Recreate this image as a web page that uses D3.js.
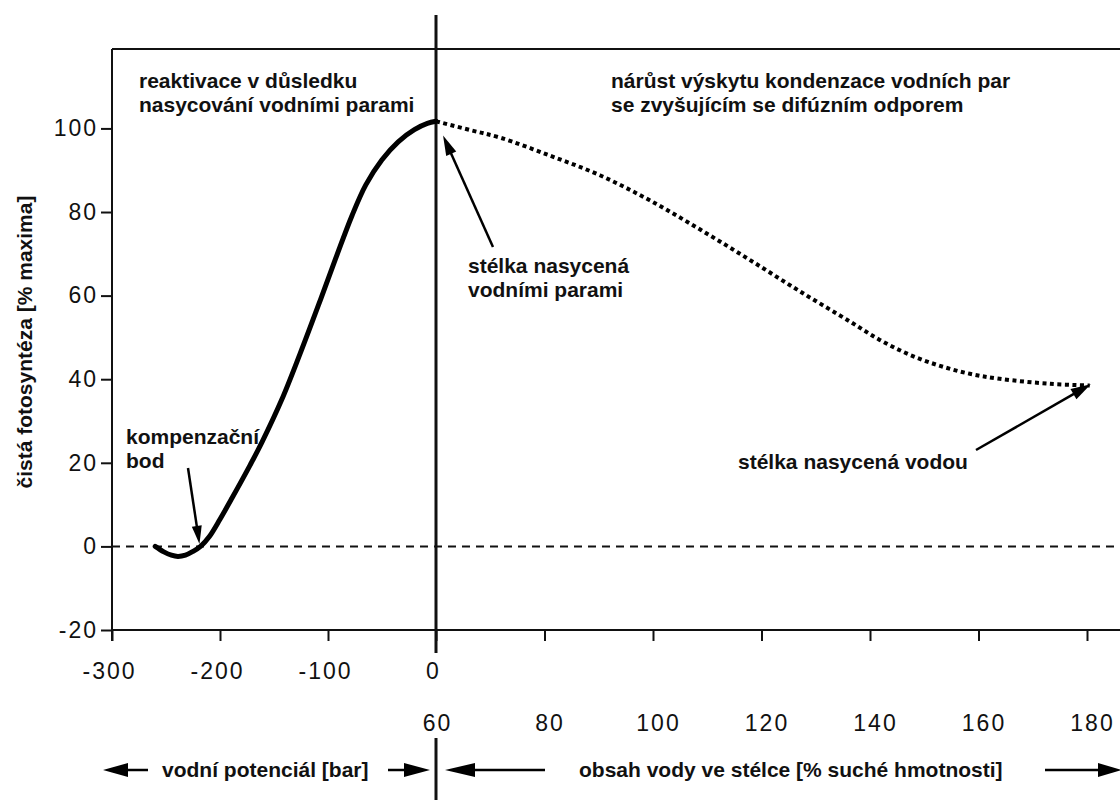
<!DOCTYPE html>
<html>
<head>
<meta charset="utf-8">
<script src="https://cdn.jsdelivr.net/npm/d3@7"></script>
<style>
  html, body { margin: 0; padding: 0; background: #fff; }
  svg { display: block; }
  .ann { font-family: "Liberation Sans", Arial, sans-serif; font-weight: bold; font-size: 21px; fill: #111; }
  .tick text { font-family: "Liberation Sans", Arial, sans-serif; font-size: 23px; letter-spacing: 2px; fill: #111; }
</style>
</head>
<body>
<svg id="chart" width="1120" height="800"></svg>
<script>
// Left branch: net photosynthesis vs. water potential (bar)
const potentialBar = [-260, -252, -245, -239, -232, -225, -218, -210, -200, -189, -172, -161, -143, -126, -107, -92, -78, -65, -50, -35, -20, -8, 0];
const photoByPotential = [0, -1.3, -2.1, -2.4, -2.1, -1.2, 0, 2.3, 6.5, 11.5, 19.5, 25, 35, 46, 59, 69.5, 79, 86.5, 92.5, 96.8, 99.7, 101.2, 101.7];

// Right branch: net photosynthesis vs. thallus water content (% dry weight)
const waterContent = [60, 66.3, 71.8, 81, 90.2, 99.4, 108.7, 117.9, 127.1, 136.3, 141.8, 147.4, 152.9, 158.4, 163.9, 173.2, 180.5];
const photoByContent = [101.7, 99.6, 97.8, 93.5, 88.8, 82.8, 75.8, 68.5, 61, 53.8, 49.4, 45.8, 43.2, 41.3, 40.1, 38.9, 38.5];

// Axis ticks
const yTicks = [-20, 0, 20, 40, 60, 80, 100];
const potentialTicks = [-300, -200, -100, 0];
const contentTicks = [60, 80, 100, 120, 140, 160, 180];

const W = 1120, H = 800;
const plotLeft = 112, plotTop = 49, plotBottom = 630, splitX = 436;

const svg = d3.select("#chart");

const y = d3.scaleLinear().domain([-20, 119]).range([plotBottom, plotTop]);
const xPot = d3.scaleLinear().domain([-300, 0]).range([plotLeft, splitX]);
const xCon = d3.scaleLinear().domain([60, 180]).range([splitX, 1087]);

// frame
const frame = svg.append("g").attr("stroke", "#111").attr("fill", "none");
frame.append("line").attr("x1", plotLeft).attr("x2", W).attr("y1", plotTop).attr("y2", plotTop).attr("stroke-width", 2);
frame.append("line").attr("x1", plotLeft).attr("x2", plotLeft).attr("y1", plotTop).attr("y2", plotBottom + 11).attr("stroke-width", 2);
frame.append("line").attr("x1", plotLeft).attr("x2", W).attr("y1", plotBottom).attr("y2", plotBottom).attr("stroke-width", 2);

// zero reference line
svg.append("line")
  .attr("x1", plotLeft).attr("x2", W)
  .attr("y1", y(0)).attr("y2", y(0))
  .attr("stroke", "#111").attr("stroke-width", 2)
  .attr("stroke-dasharray", "8 6");

// y axis
const yAxis = svg.append("g")
  .attr("transform", `translate(${plotLeft},0)`)
  .call(d3.axisLeft(y).tickValues(yTicks).tickSize(11).tickPadding(3).tickFormat(d => String(d)));
yAxis.select(".domain").remove();
yAxis.selectAll(".tick line").attr("stroke", "#111").attr("stroke-width", 2);

// water potential axis
const potAxis = svg.append("g")
  .attr("transform", `translate(0,${plotBottom})`)
  .call(d3.axisBottom(xPot).tickValues(potentialTicks).tickSize(11).tickPadding(22).tickFormat(d => String(d)));
potAxis.select(".domain").remove();
potAxis.selectAll(".tick line").attr("stroke", "#111").attr("stroke-width", 2);
potAxis.selectAll(".tick text").attr("dx", -3);

// water content axis (labels sit lower, beneath the potential labels)
const conAxis = svg.append("g")
  .attr("transform", `translate(0,${plotBottom})`)
  .call(d3.axisBottom(xCon).tickValues(contentTicks).tickSize(11).tickPadding(74));
conAxis.select(".domain").remove();
conAxis.selectAll(".tick line").attr("stroke", "#111").attr("stroke-width", 2)
  .filter(d => d === 60).remove();
conAxis.selectAll(".tick text").attr("dx", d => d === 60 ? 1 : 5);

// dividing line between the two x scales
svg.append("line")
  .attr("x1", splitX).attr("x2", splitX).attr("y1", 15).attr("y2", plotBottom + 23)
  .attr("stroke", "#111").attr("stroke-width", 3);
svg.append("line")
  .attr("x1", splitX).attr("x2", splitX).attr("y1", 738).attr("y2", H)
  .attr("stroke", "#111").attr("stroke-width", 3);

// curves
const lineLeft = d3.line()
  .x((d, i) => xPot(potentialBar[i]))
  .y(d => y(d))
  .curve(d3.curveCatmullRom.alpha(0.5));
svg.append("path")
  .attr("d", lineLeft(photoByPotential))
  .attr("fill", "none").attr("stroke", "#000").attr("stroke-width", 5)
  .attr("stroke-linecap", "round");

const lineRight = d3.line()
  .x((d, i) => xCon(waterContent[i]))
  .y(d => y(d))
  .curve(d3.curveCatmullRom.alpha(0.5));
svg.append("path")
  .attr("d", lineRight(photoByContent))
  .attr("fill", "none").attr("stroke", "#000").attr("stroke-width", 4)
  .attr("stroke-dasharray", "4 3.5");

// arrow helper: shaft from tail to tip with a filled head at the tip
function arrow(tail, tip, headLen, headHalf, width) {
  const dx = tip[0] - tail[0], dy = tip[1] - tail[1];
  const len = Math.hypot(dx, dy);
  const ux = dx / len, uy = dy / len;
  const bx = tip[0] - ux * headLen, by = tip[1] - uy * headLen;
  svg.append("line")
    .attr("x1", tail[0]).attr("y1", tail[1]).attr("x2", bx + ux * 2).attr("y2", by + uy * 2)
    .attr("stroke", "#000").attr("stroke-width", width);
  svg.append("path")
    .attr("d", `M${tip[0]},${tip[1]}L${bx - uy * headHalf},${by + ux * headHalf}L${bx + uy * headHalf},${by - ux * headHalf}Z`)
    .attr("fill", "#000");
}

// annotations
function label(lines, x, y0, lh) {
  const t = svg.append("text").attr("class", "ann").attr("x", x).attr("y", y0);
  lines.forEach((s, i) => t.append("tspan").attr("x", x).attr("dy", i ? lh : 0).text(s));
}

label(["reaktivace v důsledku", "nasycování vodními parami"], 139, 88, 24);
label(["nárůst výskytu kondenzace vodních par", "se zvyšujícím se difúzním odporem"], 611, 88, 24);
label(["stélka nasycená", "vodními parami"], 468, 273, 24);
label(["kompenzační", "bod"], 126, 444, 24);
label(["stélka nasycená vodou"], 738, 469, 24);

arrow([188, 468], [xPot(-219), y(0.6)], 18, 5, 2.5);
arrow([493, 247], [xCon(61.3), y(98.3)], 20, 5.5, 2.5);
arrow([976, 450], [xCon(180.7), y(38.8)], 20, 6, 2.5);

// y axis title
svg.append("text").attr("class", "ann")
  .attr("transform", "translate(32,342) rotate(-90)")
  .attr("text-anchor", "middle")
  .text("čistá fotosyntéza [% maxima]");

// bottom row: axis quantity labels with direction arrows
const rowY = 770;
svg.append("text").attr("class", "ann").attr("x", 162).attr("y", rowY + 7).text("vodní potenciál [bar]");
svg.append("text").attr("class", "ann").attr("x", 579).attr("y", rowY + 7).text("obsah vody ve stélce [% suché hmotnosti]");
arrow([148, rowY], [103, rowY], 25, 7, 2.5);
arrow([388, rowY], [430, rowY], 26, 7, 2.5);
arrow([545, rowY], [445, rowY], 30, 7, 2.5);
arrow([1045, rowY], [1122, rowY], 24, 7, 2.5);
</script>
</body>
</html>
